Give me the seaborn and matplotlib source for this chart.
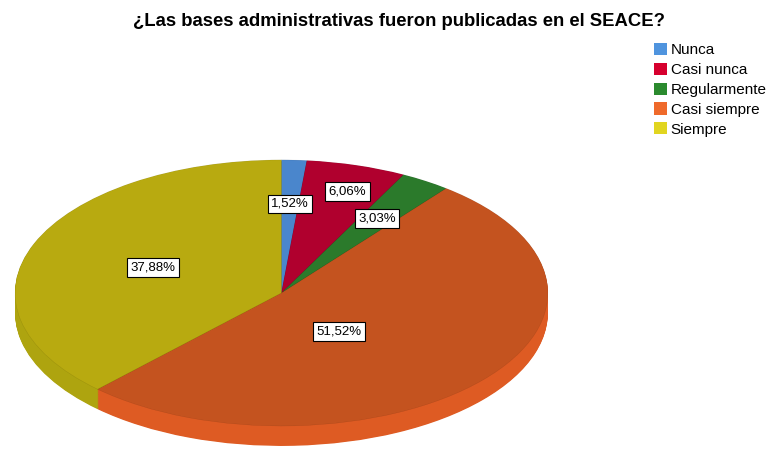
import numpy as np
import seaborn as sns
import matplotlib.pyplot as plt
from matplotlib.patches import Patch

# data
categories = ["Nunca", "Casi nunca", "Regularmente", "Casi siempre", "Siempre"]
percentages = [1.52, 6.06, 3.03, 51.52, 37.88]
title = "¿Las bases administrativas fueron publicadas en el SEACE?"

# colours (top face, side, legend)
top_colors = ["#4a86cc", "#b0002e", "#2b7a2b", "#c4531f", "#b8aa10"]
side_colors = ["#3f74b3", "#98002a", "#246a24", "#de5b23", "#aea40f"]
legend_colors = ["#4f94de", "#d6002e", "#2b8a2e", "#ef6a2b", "#e1d520"]
# where the percentage boxes sit (fraction of radius, angle shift in degrees)
label_radius = [0.67, 0.80, 0.665, 0.36, 0.52]
label_shift = [0, -1.7, 0, -12.3, 0]

sns.set_theme(style="white")
plt.rcParams["font.family"] = ["Liberation Sans", "DejaVu Sans"]
plt.rcParams["text.color"] = "black"

fig = plt.figure(figsize=(7.7, 4.55), dpi=100)
ax = fig.add_axes([0.0195, 0.0176, 0.692, 0.631])

depth = 0.15
for off in np.linspace(depth, 0.004, 30):
    ax.pie(percentages, colors=side_colors, startangle=90, counterclock=False,
           center=(0, -off), wedgeprops=dict(linewidth=0, antialiased=True))

wedges, _ = ax.pie(percentages, colors=top_colors, startangle=90, counterclock=False,
                   center=(0, 0), wedgeprops=dict(linewidth=0.3, edgecolor="#00000022"))

for w, p, r, s in zip(wedges, percentages, label_radius, label_shift):
    ang = np.deg2rad((w.theta1 + w.theta2) / 2 + s)
    ax.text(r * np.cos(ang), r * np.sin(ang), f"{p:.2f}%".replace(".", ","),
            ha="center", va="center", fontsize=9.5, color="black",
            bbox=dict(boxstyle="square,pad=0.25", fc="white", ec="black", lw=0.8))

ax.set_aspect("auto")
ax.set_xlim(-1.0, 1.0)
ax.set_ylim(-1 - depth - 0.008, 1.0)
ax.axis("off")
for a in ax.patches:
    a.set_clip_on(False)

fig.text(0.518, 0.953, title, ha="center", va="center", fontsize=13.3, fontweight="bold")

handles = [Patch(facecolor=c, edgecolor="none") for c in legend_colors]
fig.legend(handles, categories, loc="upper left", bbox_to_anchor=(0.849, 0.906),
           frameon=False, fontsize=11, handlelength=0.85, handleheight=0.85,
           handletextpad=0.25, labelspacing=0.36, borderaxespad=0, borderpad=0)

fig.savefig("out.png", dpi=100)
